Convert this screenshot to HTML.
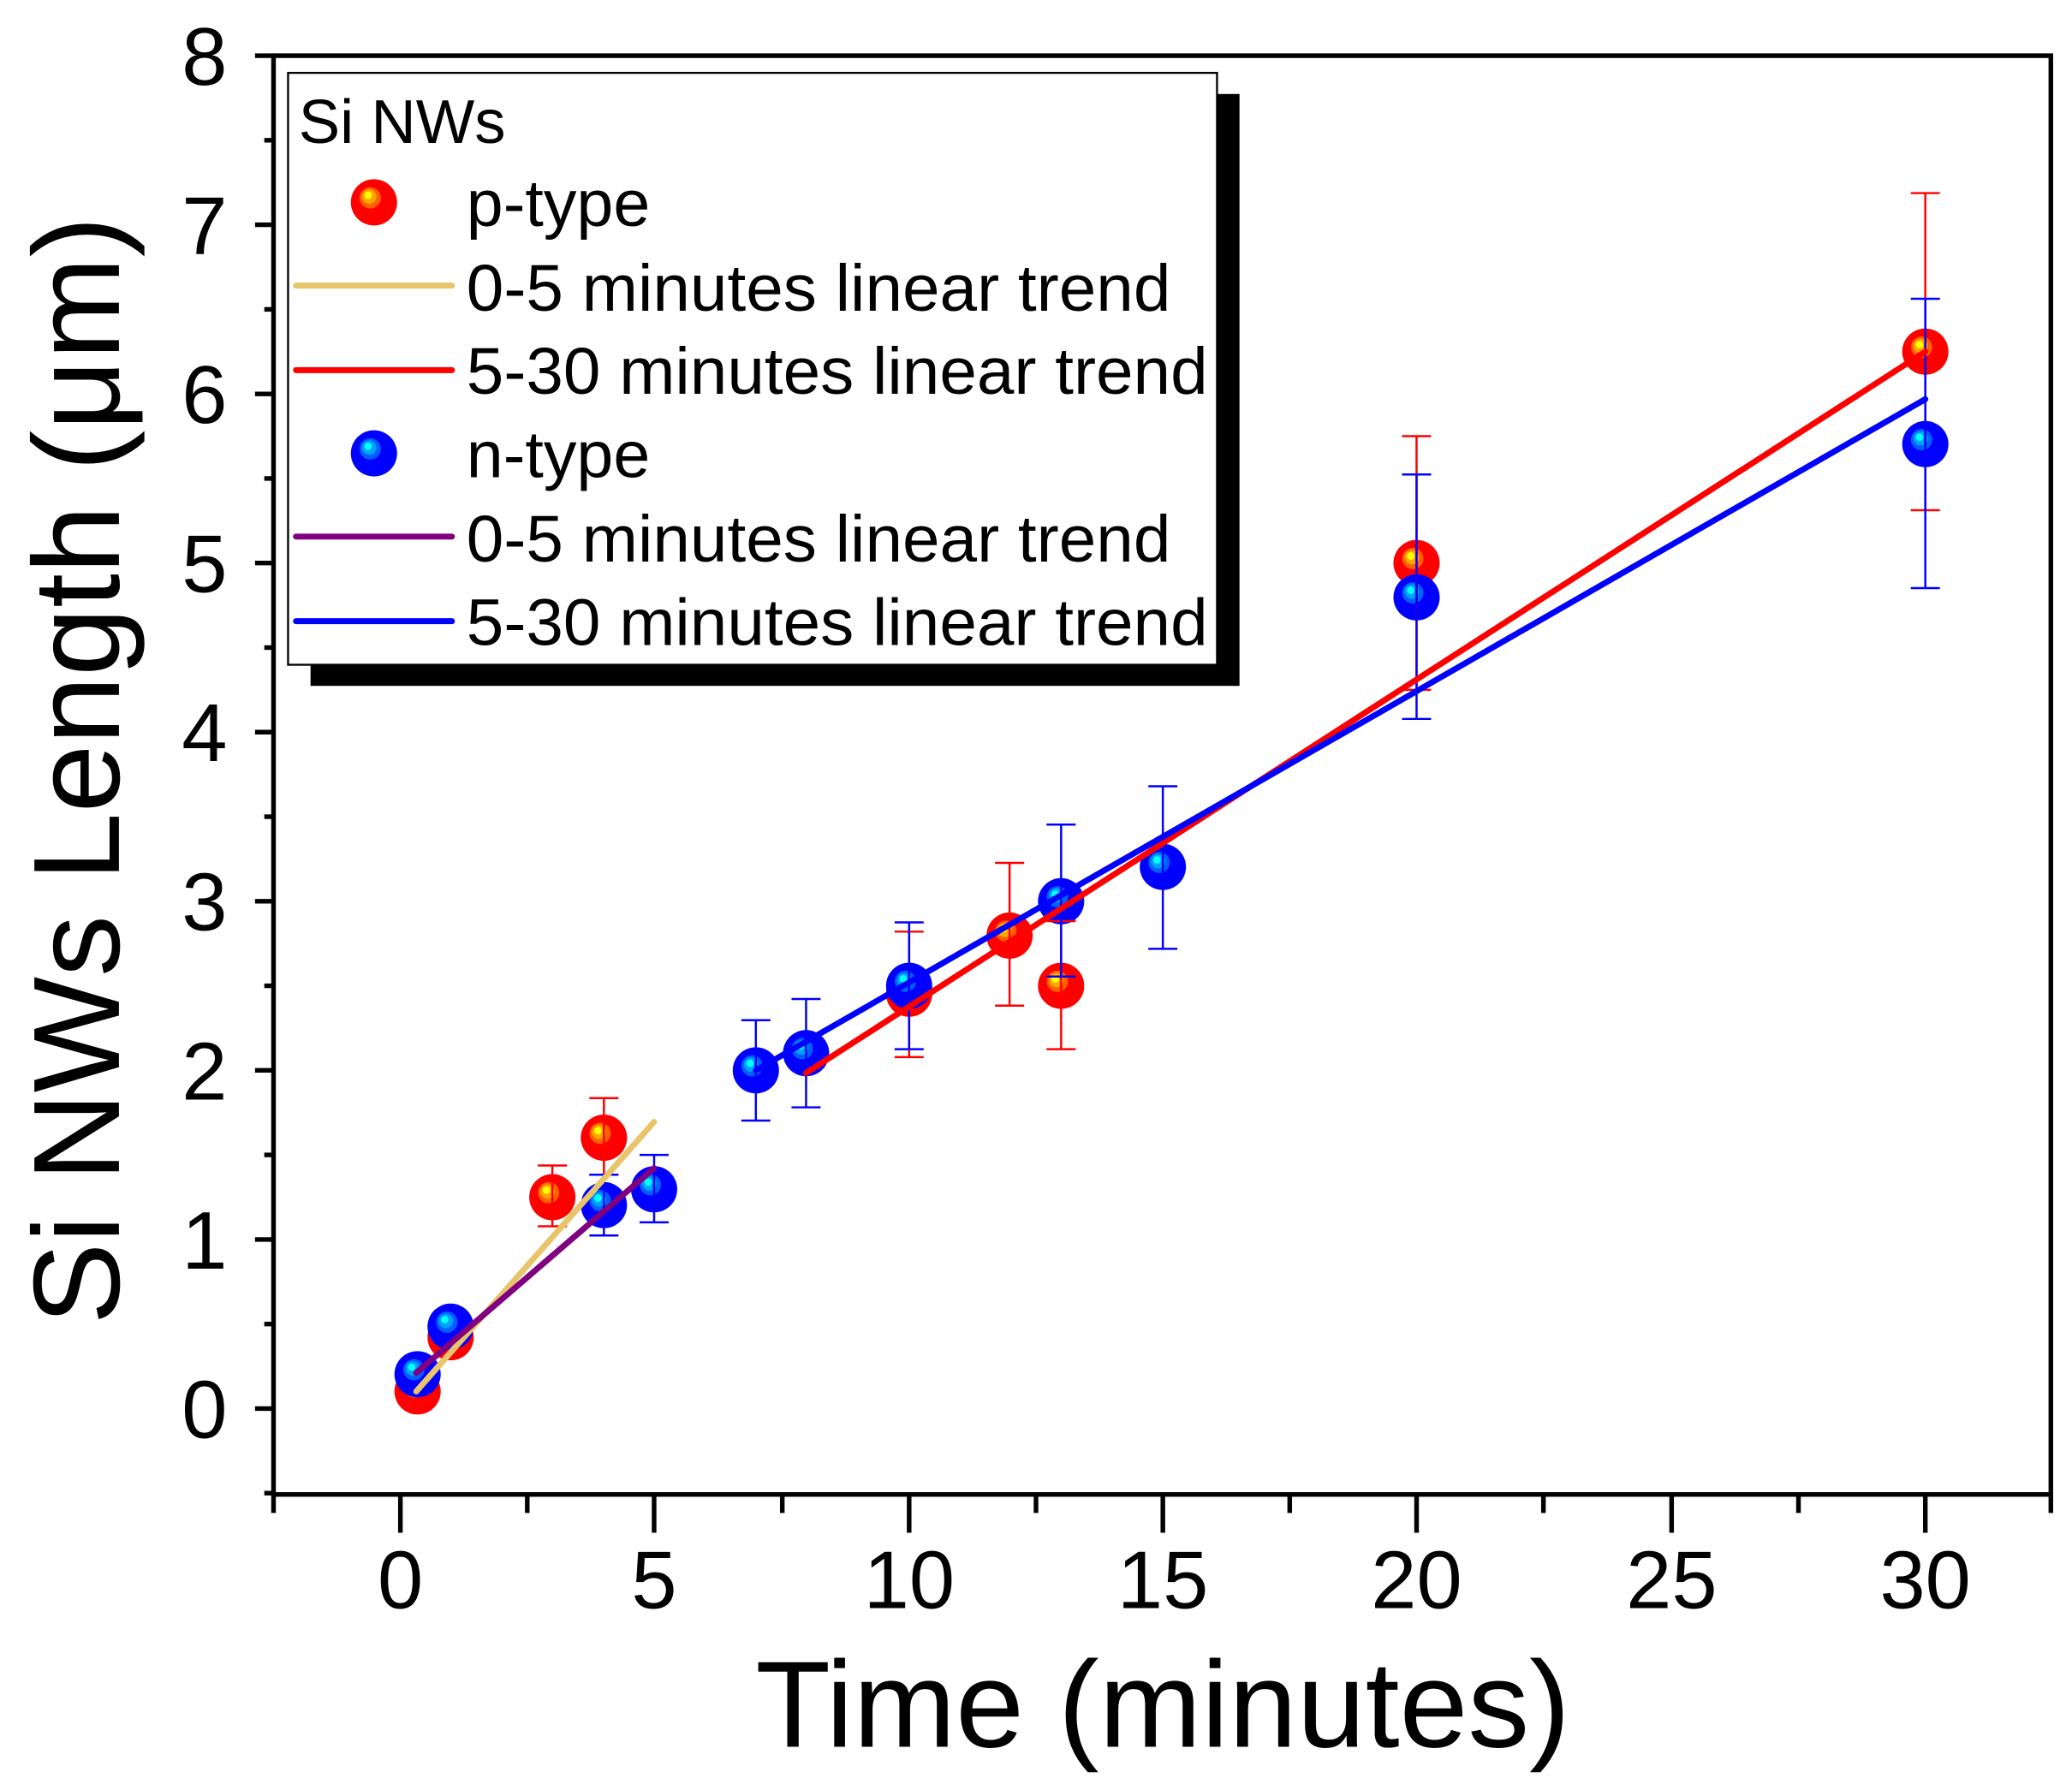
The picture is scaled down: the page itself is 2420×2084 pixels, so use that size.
<!DOCTYPE html>
<html><head><meta charset="utf-8"><style>html,body{margin:0;padding:0;background:#fff}svg{display:block}</style></head>
<body>
<svg width="2420" height="2084" viewBox="0 0 1568 1350" xmlns="http://www.w3.org/2000/svg" font-family="Liberation Sans, sans-serif">
<defs>
<radialGradient id="gr" cx="0.5" cy="0.5" r="0.5" fx="0.35" fy="0.32">
<stop offset="0" stop-color="#ffff00"/><stop offset="0.15" stop-color="#ffff00"/>
<stop offset="0.17" stop-color="#ffa500"/><stop offset="0.3" stop-color="#ffa500"/>
<stop offset="0.32" stop-color="#ff6000"/><stop offset="0.45" stop-color="#ff6000"/>
<stop offset="0.47" stop-color="#ff0000"/><stop offset="1" stop-color="#ff0000"/>
</radialGradient>
<radialGradient id="gb" cx="0.5" cy="0.5" r="0.5" fx="0.35" fy="0.32">
<stop offset="0" stop-color="#00ffff"/><stop offset="0.15" stop-color="#00ffff"/>
<stop offset="0.17" stop-color="#00a0ff"/><stop offset="0.3" stop-color="#00a0ff"/>
<stop offset="0.32" stop-color="#0060ff"/><stop offset="0.45" stop-color="#0060ff"/>
<stop offset="0.47" stop-color="#0000ff"/><stop offset="1" stop-color="#0000ff"/>
</radialGradient>
</defs>
<rect width="1568" height="1350" fill="#fff"/>
<rect x="207" y="42" width="1345" height="1089" fill="none" stroke="#000" stroke-width="3.5"/>
<g stroke="#000" stroke-width="3.5">
<line x1="193" y1="1066" x2="207" y2="1066"/><line x1="193" y1="938" x2="207" y2="938"/><line x1="193" y1="810" x2="207" y2="810"/><line x1="193" y1="682" x2="207" y2="682"/><line x1="193" y1="554" x2="207" y2="554"/><line x1="193" y1="426" x2="207" y2="426"/><line x1="193" y1="298" x2="207" y2="298"/><line x1="193" y1="170" x2="207" y2="170"/><line x1="193" y1="42" x2="207" y2="42"/>
<line x1="200" y1="1130" x2="207" y2="1130"/><line x1="200" y1="1002" x2="207" y2="1002"/><line x1="200" y1="874" x2="207" y2="874"/><line x1="200" y1="746" x2="207" y2="746"/><line x1="200" y1="618" x2="207" y2="618"/><line x1="200" y1="490" x2="207" y2="490"/><line x1="200" y1="362" x2="207" y2="362"/><line x1="200" y1="234" x2="207" y2="234"/><line x1="200" y1="106" x2="207" y2="106"/>
<line x1="303" y1="1131" x2="303" y2="1160"/><line x1="495" y1="1131" x2="495" y2="1160"/><line x1="688" y1="1131" x2="688" y2="1160"/><line x1="880" y1="1131" x2="880" y2="1160"/><line x1="1072" y1="1131" x2="1072" y2="1160"/><line x1="1265" y1="1131" x2="1265" y2="1160"/><line x1="1457" y1="1131" x2="1457" y2="1160"/>
<line x1="207" y1="1131" x2="207" y2="1145"/><line x1="399" y1="1131" x2="399" y2="1145"/><line x1="592" y1="1131" x2="592" y2="1145"/><line x1="784" y1="1131" x2="784" y2="1145"/><line x1="976" y1="1131" x2="976" y2="1145"/><line x1="1168" y1="1131" x2="1168" y2="1145"/><line x1="1361" y1="1131" x2="1361" y2="1145"/><line x1="1552" y1="1131" x2="1552" y2="1145"/>
</g>
<g font-size="62" text-anchor="end" fill="#000">
<text x="172" y="1088">0</text><text x="172" y="960">1</text><text x="172" y="832">2</text><text x="172" y="704">3</text><text x="172" y="576">4</text><text x="172" y="448">5</text><text x="172" y="320">6</text><text x="172" y="192">7</text><text x="172" y="64">8</text>
</g>
<g font-size="62" text-anchor="middle" fill="#000">
<text x="303" y="1217">0</text><text x="495" y="1217">5</text><text x="688" y="1217">10</text><text x="880" y="1217">15</text><text x="1072" y="1217">20</text><text x="1265" y="1217">25</text><text x="1457" y="1217">30</text>
</g>
<text x="880" y="1322" font-size="93" text-anchor="middle">Time (minutes)</text>
<text transform="translate(90,583) rotate(-90)" font-size="93" text-anchor="middle">Si NWs Length (μm)</text>

<g fill="url(#gr)">
<circle cx="316" cy="1053" r="17.5"/><circle cx="341" cy="1012" r="17.5"/><circle cx="418" cy="906" r="17.5"/><circle cx="457" cy="861" r="17.5"/><circle cx="688" cy="752" r="17.5"/><circle cx="764" cy="708" r="17.5"/><circle cx="803" cy="746" r="17.5"/><circle cx="1072" cy="426" r="17.5"/><circle cx="1457" cy="266" r="17.5"/>
</g>
<g fill="url(#gb)">
<circle cx="316" cy="1040" r="17.5"/><circle cx="341" cy="1004" r="17.5"/><circle cx="457" cy="912" r="17.5"/><circle cx="495" cy="900" r="17.5"/><circle cx="572" cy="810" r="17.5"/><circle cx="610" cy="797" r="17.5"/><circle cx="688" cy="746" r="17.5"/><circle cx="803" cy="682" r="17.5"/><circle cx="880" cy="656" r="17.5"/><circle cx="1072" cy="452" r="17.5"/><circle cx="1457" cy="336" r="17.5"/>
</g>
<g stroke="#ff0000" stroke-width="1.6" fill="none">
<path d="M418 928V882M407 928H429M407 882H429"/>
<path d="M457 889V831M446 889H468M446 831H468"/>
<path d="M688 800V705M677 800H699M677 705H699"/>
<path d="M764 761V653M753 761H775M753 653H775"/>
<path d="M803 794V697M792 794H814M792 697H814"/>
<path d="M1072 522V330M1061 522H1083M1061 330H1083"/>
<path d="M1457 386V146M1446 386H1468M1446 146H1468"/>
</g>
<g stroke="#0000ff" stroke-width="1.6" fill="none">
<path d="M457 935V889M446 935H468M446 889H468"/>
<path d="M495 925V874M484 925H506M484 874H506"/>
<path d="M572 848V772M561 848H583M561 772H583"/>
<path d="M610 838V756M599 838H621M599 756H621"/>
<path d="M688 794V698M677 794H699M677 698H699"/>
<path d="M803 739V624M792 739H814M792 624H814"/>
<path d="M880 718V595M869 718H891M869 595H891"/>
<path d="M1072 544V359M1061 544H1083M1061 359H1083"/>
<path d="M1457 445V226M1446 445H1468M1446 226H1468"/>
</g>
<g stroke-width="4.5" stroke-linecap="round">
<line x1="315" y1="1053" x2="495" y2="849" stroke="#e8c46a"/>
<line x1="315" y1="1039" x2="495" y2="884" stroke="#800080"/>
<line x1="610" y1="812" x2="1457" y2="266" stroke="#ff0000"/>
<line x1="572" y1="810" x2="1457" y2="302" stroke="#0000ff"/>
</g>

<rect x="235" y="71" width="703" height="448" fill="#000"/>
<rect x="218" y="55" width="703" height="448" fill="#fff" stroke="#000" stroke-width="1.5"/>
<text x="226" y="108" font-size="47" fill="#000">Si NWs</text>
<g font-size="50" fill="#000">
<text x="353" y="171">p-type</text>
<text x="353" y="235" textLength="533" lengthAdjust="spacingAndGlyphs">0-5 minutes linear trend</text>
<text x="353" y="298" textLength="561" lengthAdjust="spacingAndGlyphs">5-30 minutes linear trend</text>
<text x="353" y="361">n-type</text>
<text x="353" y="425" textLength="533" lengthAdjust="spacingAndGlyphs">0-5 minutes linear trend</text>
<text x="353" y="488" textLength="561" lengthAdjust="spacingAndGlyphs">5-30 minutes linear trend</text>
</g>
<circle cx="283" cy="153" r="17.5" fill="url(#gr)"/>
<circle cx="283" cy="343" r="17.5" fill="url(#gb)"/>
<g stroke-width="4.5" stroke-linecap="round">
<line x1="224" y1="216" x2="342" y2="216" stroke="#e8c46a"/>
<line x1="224" y1="280" x2="342" y2="280" stroke="#ff0000"/>
<line x1="224" y1="406" x2="342" y2="406" stroke="#800080"/>
<line x1="224" y1="470" x2="342" y2="470" stroke="#0000ff"/>
</g>
</svg>
</body></html>
